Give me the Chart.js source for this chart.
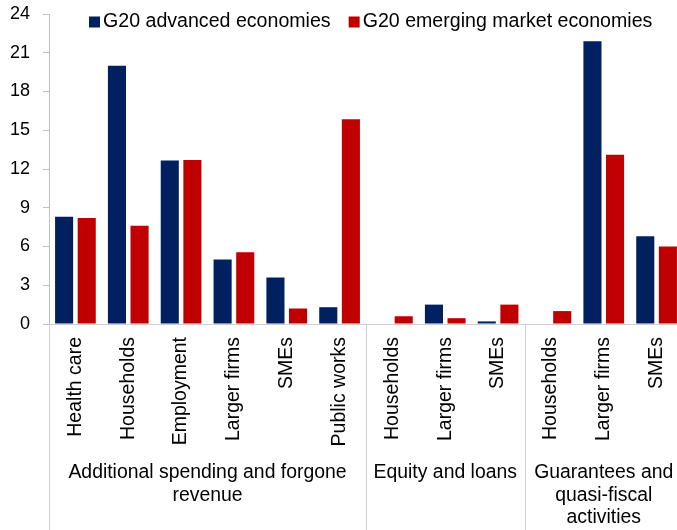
<!DOCTYPE html>
<html>
<head>
<meta charset="utf-8">
<script src="https://cdn.jsdelivr.net/npm/chart.js@4"></script>
<style>
  html, body { margin: 0; padding: 0; background: #fff; overflow: hidden; }
  #wrap { width: 677px; height: 530px; overflow: hidden; }
</style>
</head>
<body>
<div id="wrap"><canvas id="support-chart" width="683" height="530"></canvas></div>
<script>
/* Fiscal support by measure: G20 advanced vs emerging economies */

const categories = [
  'Health care', 'Households', 'Employment', 'Larger firms', 'SMEs', 'Public works',
  'Households', 'Larger firms', 'SMEs',
  'Households', 'Larger firms', 'SMEs'
];
const advanced = [8.3, 20.0, 12.65, 5.0, 3.6, 1.3, 0, 1.5, 0.2, 0, 21.9, 6.8];
const emerging = [8.2, 7.6, 12.7, 5.55, 1.2, 15.85, 0.6, 0.45, 1.5, 1.0, 13.1, 6.0];
const seriesNames = ['G20 advanced economies', 'G20 emerging market economies'];
const groupLabels = [
  ['Additional spending and forgone', 'revenue'],
  ['Equity and loans'],
  ['Guarantees and', 'quasi-fiscal', 'activities']
];
const groupSizes = [6, 3, 3];
const yTicks = [0, 3, 6, 9, 12, 15, 18, 21, 24];

const FONT = "'Liberation Sans', Arial, sans-serif";
const NAVY = '#002060';
const RED = '#C00000';

// legend drawn inside the plot area, along the top
const topLegend = {
  id: 'topLegend',
  afterDraw(chart) {
    const { ctx } = chart;
    ctx.save();
    ctx.font = `19.6px ${FONT}`;
    ctx.textBaseline = 'middle';
    ctx.textAlign = 'left';
    let x = 89;
    const y = 22;
    chart.data.datasets.forEach(ds => {
      ctx.fillStyle = ds.backgroundColor;
      ctx.fillRect(x, y - 5.5, 11, 11);
      ctx.fillStyle = '#000';
      ctx.fillText(ds.label, x + 14, y);
      x += 14 + ctx.measureText(ds.label).width + 18;
    });
    ctx.restore();
  }
};

// group separators and group captions under the category labels
const groupAxis = {
  id: 'groupAxis',
  afterDraw(chart) {
    const { ctx } = chart;
    const xs = chart.scales.x;
    const top = xs.top;
    const bottom = chart.height;
    ctx.save();
    ctx.strokeStyle = '#d0d0d0';
    ctx.lineWidth = 1;
    ctx.font = `19.4px ${FONT}`;
    ctx.fillStyle = '#000';
    ctx.textAlign = 'center';
    ctx.textBaseline = 'middle';
    let start = 0;
    groupSizes.forEach((n, g) => {
      const left = xs.getPixelForValue(start - 0.5);
      const right = xs.getPixelForValue(start + n - 0.5);
      const sx = Math.round(left) + 0.5;
      ctx.beginPath();
      ctx.moveTo(sx, top);
      ctx.lineTo(sx, bottom);
      ctx.stroke();
      const cx = (left + right) / 2;
      groupLabels[g].forEach((line, i) => {
        ctx.fillText(line, cx, 473 + i * 22.5);
      });
      start += n;
    });
    ctx.restore();
  }
};

new Chart(document.getElementById('support-chart'), {
  type: 'bar',
  data: {
    labels: categories,
    datasets: [
      { label: seriesNames[0], data: advanced, backgroundColor: NAVY,
        barPercentage: 0.8, categoryPercentage: 0.856 },
      { label: seriesNames[1], data: emerging, backgroundColor: RED,
        barPercentage: 0.8, categoryPercentage: 0.856 }
    ]
  },
  options: {
    responsive: false,
    animation: false,
    layout: { padding: { top: 14, right: 0, left: 0, bottom: 0 } },
    plugins: {
      legend: { display: false },
      tooltip: { enabled: false }
    },
    scales: {
      y: {
        min: 0,
        max: 24,
        afterBuildTicks(scale) {
          scale.ticks = yTicks.map(v => ({ value: v }));
        },
        afterFit(scale) {
          scale.width = 49;
          scale.paddingTop = 0;
          scale.paddingBottom = 0;
        },
        ticks: {
          font: { family: FONT, size: 18 },
          color: '#000',
          padding: 13
        },
        grid: { drawOnChartArea: false, drawTicks: true, tickLength: 6, color: '#bfbfbf' },
        border: { color: '#bfbfbf' }
      },
      x: {
        afterFit(scale) {
          scale.height = 206;
          scale.paddingLeft = 0;
          scale.paddingRight = 0;
        },
        ticks: {
          font: { family: FONT, size: 19.5 },
          color: '#000',
          minRotation: 90,
          maxRotation: 90,
          autoSkip: false,
          padding: 5
        },
        grid: { display: false },
        border: { color: '#d0d0d0' }
      }
    }
  },
  plugins: [topLegend, groupAxis]
});
</script>
</body>
</html>
